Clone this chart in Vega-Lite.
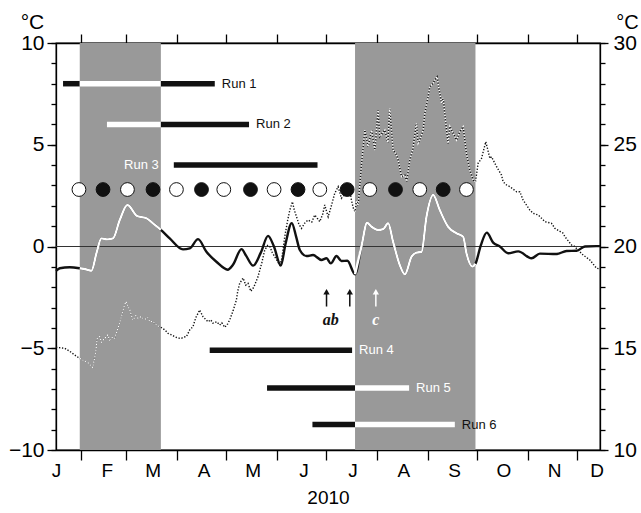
{
  "$schema": "https://vega.github.io/schema/vega-lite/v6.json",
  "width": 544,
  "height": 407,
  "autosize": "none",
  "padding": {"left": 56, "top": 43, "right": 41, "bottom": 63},
  "background": "white",
  "config": {
    "view": {"stroke": "black", "strokeWidth": 1.3},
    "font": "Liberation Sans",
    "axis": {"grid": false, "domainColor": "black", "tickColor": "black", "labelColor": "black", "titleColor": "black", "labelFont": "Liberation Sans", "titleFont": "Liberation Sans", "titleFontWeight": "normal", "domainWidth": 1.3, "tickWidth": 1.3, "labelFlush": false}
  },
  "datasets": {
    "periods": [{"start": 14.5, "end": 64}, {"start": 182.5, "end": 256}],
    "anom": [
      {"day": 0, "value": -1.2}, {"day": 2.3, "value": -1.07}, {"day": 8.4, "value": -1.02}, {"day": 14.5, "value": -1.07}, {"day": 18, "value": -1.12}, {"day": 21.6, "value": -1.19}, {"day": 24.7, "value": -0.33}, {"day": 27.7, "value": 0.4}, {"day": 31.1, "value": 0.35}, {"day": 34.8, "value": 0.4}, {"day": 38.9, "value": 1.3}, {"day": 43.6, "value": 2.04}, {"day": 49.5, "value": 1.5}, {"day": 55.2, "value": 1.39}, {"day": 59, "value": 1.15}, {"day": 64, "value": 0.82}, {"day": 69.4, "value": 0.4}, {"day": 77.5, "value": -0.14}, {"day": 81.6, "value": -0.09}, {"day": 86.7, "value": 0.36}, {"day": 91.8, "value": -0.26}, {"day": 97.9, "value": -0.75}, {"day": 104.8, "value": -1.14}, {"day": 108, "value": -0.9}, {"day": 113.2, "value": -0.13}, {"day": 116, "value": -0.45}, {"day": 120.3, "value": -0.94}, {"day": 125, "value": -0.3}, {"day": 129.4, "value": 0.52}, {"day": 133, "value": 0}, {"day": 137.2, "value": -0.94}, {"day": 140, "value": 0.1}, {"day": 143.9, "value": 1.15}, {"day": 146.5, "value": 0.5}, {"day": 148.8, "value": -0.17}, {"day": 152.9, "value": -0.47}, {"day": 156.9, "value": -0.42}, {"day": 162, "value": -0.66}, {"day": 165.1, "value": -0.58}, {"day": 167.7, "value": -0.83}, {"day": 171.2, "value": -0.47}, {"day": 174.2, "value": -0.71}, {"day": 177.8, "value": -0.7}, {"day": 182.5, "value": -1.36}, {"day": 186.4, "value": 0}, {"day": 189.9, "value": 1.17}, {"day": 192.6, "value": 0.97}, {"day": 196.6, "value": 0.81}, {"day": 199.6, "value": 0.85}, {"day": 202.7, "value": 1.14}, {"day": 205.7, "value": 0.24}, {"day": 209.8, "value": -0.91}, {"day": 212.9, "value": -1.37}, {"day": 217, "value": -0.5}, {"day": 220, "value": -0.3}, {"day": 223.1, "value": -0.26}, {"day": 226.1, "value": 1.46}, {"day": 230.2, "value": 2.53}, {"day": 234.2, "value": 1.79}, {"day": 239.3, "value": 0.97}, {"day": 244.4, "value": 0.65}, {"day": 248.5, "value": 0.48}, {"day": 250.5, "value": -0.33}, {"day": 254.2, "value": -0.99}, {"day": 256, "value": -0.85}, {"day": 259.3, "value": 0.07}, {"day": 262.9, "value": 0.68}, {"day": 266.8, "value": 0.19}, {"day": 270.9, "value": 0}, {"day": 275.9, "value": -0.33}, {"day": 282.1, "value": -0.24}, {"day": 290.2, "value": -0.58}, {"day": 295.3, "value": -0.35}, {"day": 305.5, "value": -0.37}, {"day": 311.6, "value": -0.22}, {"day": 317.7, "value": -0.21}, {"day": 322.8, "value": 0}, {"day": 329.9, "value": 0.02}, {"day": 332, "value": 0.02}
    ],
    "temp": [
      {"day": 0, "temp": 15.05}, {"day": 5.3, "temp": 15.0}, {"day": 8.4, "temp": 14.85}, {"day": 11.4, "temp": 14.67}, {"day": 14.5, "temp": 14.5}, {"day": 19.4, "temp": 14.3}, {"day": 22.4, "temp": 14.05}, {"day": 24.2, "temp": 14.8}, {"day": 25.2, "temp": 15.5}, {"day": 26.7, "temp": 15.57}, {"day": 27.9, "temp": 15.3}, {"day": 29.7, "temp": 15.49}, {"day": 31.6, "temp": 15.65}, {"day": 32.8, "temp": 15.41}, {"day": 34.6, "temp": 15.55}, {"day": 35.8, "temp": 15.5}, {"day": 37.9, "temp": 15.98}, {"day": 39.9, "temp": 16.55}, {"day": 41.3, "temp": 17.0}, {"day": 42.6, "temp": 17.29}, {"day": 43.8, "temp": 17.1}, {"day": 45, "temp": 16.88}, {"day": 47, "temp": 16.39}, {"day": 48.7, "temp": 16.6}, {"day": 50.1, "temp": 16.47}, {"day": 51.7, "temp": 16.55}, {"day": 54.2, "temp": 16.42}, {"day": 56, "temp": 16.5}, {"day": 57.2, "temp": 16.3}, {"day": 59, "temp": 16.32}, {"day": 61.3, "temp": 16.14}, {"day": 64, "temp": 16.03}, {"day": 66.4, "temp": 15.9}, {"day": 68.4, "temp": 15.73}, {"day": 70.6, "temp": 15.65}, {"day": 72.5, "temp": 15.57}, {"day": 74.3, "temp": 15.5}, {"day": 76.6, "temp": 15.49}, {"day": 78, "temp": 15.55}, {"day": 79.6, "temp": 15.57}, {"day": 81.6, "temp": 15.9}, {"day": 83.6, "temp": 16.06}, {"day": 85.3, "temp": 16.5}, {"day": 87.7, "temp": 16.88}, {"day": 89.7, "temp": 16.55}, {"day": 92.8, "temp": 16.3}, {"day": 94.4, "temp": 16.4}, {"day": 95.8, "temp": 16.23}, {"day": 98.1, "temp": 16.3}, {"day": 99.9, "temp": 16.14}, {"day": 101.2, "temp": 16.25}, {"day": 103, "temp": 16.03}, {"day": 104.8, "temp": 16.2}, {"day": 106, "temp": 16.39}, {"day": 108.1, "temp": 16.85}, {"day": 110.1, "temp": 17.37}, {"day": 110.9, "temp": 17.8}, {"day": 112.1, "temp": 18.19}, {"day": 114.2, "temp": 18.45}, {"day": 115.8, "temp": 18.1}, {"day": 117.2, "temp": 18.19}, {"day": 118.9, "temp": 17.8}, {"day": 120.7, "temp": 18.0}, {"day": 123.3, "temp": 18.52}, {"day": 125.6, "temp": 19.2}, {"day": 127.4, "temp": 19.83}, {"day": 129.2, "temp": 20.05}, {"day": 130.5, "temp": 20.0}, {"day": 132, "temp": 19.7}, {"day": 133.5, "temp": 19.5}, {"day": 135.3, "temp": 19.25}, {"day": 136.6, "temp": 19.09}, {"day": 137.8, "temp": 19.4}, {"day": 139.6, "temp": 20.48}, {"day": 141.4, "temp": 21.3}, {"day": 142.7, "temp": 21.79}, {"day": 144.3, "temp": 22.2}, {"day": 145.4, "temp": 21.8}, {"day": 146.8, "temp": 21.46}, {"day": 148.2, "temp": 21.1}, {"day": 149.8, "temp": 20.89}, {"day": 151.8, "temp": 21.15}, {"day": 153.8, "temp": 21.3}, {"day": 156.1, "temp": 21.2}, {"day": 157.9, "temp": 21.55}, {"day": 159.8, "temp": 21.35}, {"day": 161, "temp": 21.22}, {"day": 162.8, "temp": 21.6}, {"day": 164, "temp": 22.04}, {"day": 166.1, "temp": 21.46}, {"day": 167.7, "temp": 21.9}, {"day": 170.1, "temp": 22.61}, {"day": 172.2, "temp": 22.94}, {"day": 174.2, "temp": 22.37}, {"day": 175.6, "temp": 22.5}, {"day": 177.3, "temp": 22.69}, {"day": 179.3, "temp": 22.78}, {"day": 180.3, "temp": 22.28}, {"day": 181.4, "temp": 21.9}, {"day": 182.5, "temp": 21.71}, {"day": 183.5, "temp": 22.28}, {"day": 184.4, "temp": 22.0}, {"day": 186.4, "temp": 24.0}, {"day": 188.5, "temp": 25.72}, {"day": 190.5, "temp": 24.9}, {"day": 192.6, "temp": 25.72}, {"day": 194.6, "temp": 24.74}, {"day": 196.6, "temp": 26.7}, {"day": 197.6, "temp": 25.4}, {"day": 199.5, "temp": 25.6}, {"day": 200.7, "temp": 25.72}, {"day": 202.5, "temp": 25.1}, {"day": 203.7, "temp": 26.79}, {"day": 205.7, "temp": 24.74}, {"day": 207.8, "temp": 24.5}, {"day": 208.8, "temp": 24.25}, {"day": 210.9, "temp": 23.43}, {"day": 212.9, "temp": 23.5}, {"day": 214.1, "temp": 23.2}, {"day": 215.9, "temp": 24.25}, {"day": 217.8, "temp": 24.8}, {"day": 220, "temp": 26.05}, {"day": 221, "temp": 25.07}, {"day": 222, "temp": 25.23}, {"day": 224.1, "temp": 25.72}, {"day": 225.1, "temp": 26.54}, {"day": 227.1, "temp": 27.36}, {"day": 228.1, "temp": 27.85}, {"day": 230.2, "temp": 28.02}, {"day": 231.2, "temp": 28.18}, {"day": 232.6, "temp": 28.34}, {"day": 233.6, "temp": 27.8}, {"day": 235.3, "temp": 27.04}, {"day": 236.3, "temp": 27.3}, {"day": 237.3, "temp": 26.46}, {"day": 239.3, "temp": 25.07}, {"day": 240.4, "temp": 25.9}, {"day": 242.4, "temp": 25.56}, {"day": 244.4, "temp": 25.23}, {"day": 246.5, "temp": 25.64}, {"day": 248.5, "temp": 25.89}, {"day": 250.5, "temp": 24.58}, {"day": 252.5, "temp": 23.76}, {"day": 254.6, "temp": 23.27}, {"day": 256, "temp": 23.18}, {"day": 257.6, "temp": 24.09}, {"day": 259.7, "temp": 24.33}, {"day": 262.3, "temp": 25.15}, {"day": 264.8, "temp": 24.33}, {"day": 265.8, "temp": 24.41}, {"day": 268.9, "temp": 23.92}, {"day": 271.9, "temp": 23.51}, {"day": 272.9, "temp": 23.18}, {"day": 275, "temp": 23.02}, {"day": 277, "temp": 22.94}, {"day": 281.1, "temp": 22.69}, {"day": 283.1, "temp": 22.69}, {"day": 285.1, "temp": 22.28}, {"day": 289.2, "temp": 21.79}, {"day": 291.2, "temp": 21.63}, {"day": 294.3, "temp": 21.55}, {"day": 298.4, "temp": 21.22}, {"day": 302.4, "temp": 21.14}, {"day": 304.5, "temp": 20.89}, {"day": 309.5, "temp": 20.65}, {"day": 310.6, "temp": 20.48}, {"day": 314.7, "temp": 20.07}, {"day": 315.6, "temp": 20.07}, {"day": 319.7, "temp": 19.74}, {"day": 321.7, "temp": 19.58}, {"day": 325.8, "temp": 19.34}, {"day": 329.9, "temp": 18.93}, {"day": 332, "temp": 18.9}
    ],
    "segments": [
      {"run": "Run 1", "start": 4.3, "end": 14.5, "level": 8},
      {"run": "Run 1", "start": 14.5, "end": 64, "level": 8},
      {"run": "Run 1", "start": 64, "end": 96.9, "level": 8},
      {"run": "Run 2", "start": 31.1, "end": 64, "level": 6},
      {"run": "Run 2", "start": 64, "end": 117.8, "level": 6},
      {"run": "Run 3", "start": 71.9, "end": 159.6, "level": 4},
      {"run": "Run 4", "start": 93.8, "end": 180.7, "level": -5.1},
      {"run": "Run 5", "start": 128.8, "end": 182.5, "level": -6.95},
      {"run": "Run 5", "start": 182.5, "end": 215.5, "level": -6.95},
      {"run": "Run 6", "start": 156.5, "end": 182.5, "level": -8.75},
      {"run": "Run 6", "start": 182.5, "end": 243.4, "level": -8.75}
    ],
    "runs": [
      {"run": "Run 1", "start": 4.3, "end": 96.9, "level": 8},
      {"run": "Run 2", "start": 31.1, "end": 117.8, "level": 6},
      {"run": "Run 3", "start": 71.9, "end": 159.6, "level": 4},
      {"run": "Run 4", "start": 93.8, "end": 180.7, "level": -5.1},
      {"run": "Run 5", "start": 128.8, "end": 215.5, "level": -6.95},
      {"run": "Run 6", "start": 156.5, "end": 243.4, "level": -8.75}
    ],
    "samples": [
      {"day": 14.0, "kind": "open"}, {"day": 28.7, "kind": "filled"}, {"day": 43.6, "kind": "open"}, {"day": 59.2, "kind": "filled"}, {"day": 73.5, "kind": "open"}, {"day": 88.8, "kind": "filled"}, {"day": 102.4, "kind": "open"}, {"day": 118.7, "kind": "filled"}, {"day": 133.1, "kind": "open"}, {"day": 147.7, "kind": "filled"}, {"day": 161.0, "kind": "open"}, {"day": 177.7, "kind": "filled"}, {"day": 191.5, "kind": "open"}, {"day": 207.2, "kind": "filled"}, {"day": 222.0, "kind": "open"}, {"day": 236.3, "kind": "filled"}, {"day": 250.5, "kind": "open"}
    ],
    "events": [{"day": 165.1, "event": "a"}, {"day": 179.3, "event": "b"}, {"day": 195.2, "event": "c"}],
    "eventLabels": [{"day": 167.7, "text": "ab"}, {"day": 195.2, "text": "c"}]
  },
  "resolve": {"scale": {"y": "independent"}, "axis": {"x": "independent", "y": "independent"}},
  "layer": [
    {
      "data": {"name": "periods"},
      "mark": {"type": "rect", "color": "#999999"},
      "encoding": {
        "x": {"field": "start", "type": "quantitative", "scale": {"domain": [0, 332], "nice": false, "zero": false},
              "axis": {"orient": "bottom", "values": [15, 43, 74, 104, 135, 165, 196, 227, 257, 288, 318], "labels": false, "tickSize": 10, "title": null, "domain": true}},
        "x2": {"field": "end"},
        "y": {"datum": -10, "type": "quantitative", "scale": {"domain": [-10, 10], "nice": false, "zero": false}, "axis": null},
        "y2": {"datum": 10}
      }
    },
    {
      "data": {"values": [{}]},
      "mark": {"type": "rule", "color": "#333333", "strokeWidth": 1},
      "encoding": {"y": {"datum": 0, "type": "quantitative", "scale": {"domain": [-10, 10], "nice": false, "zero": false}, "axis": null}}
    },
    {
      "data": {"name": "temp"},
      "mark": {"type": "line", "color": "#111111", "strokeWidth": 1.4, "strokeDash": [1.3, 1.7]},
      "encoding": {
        "x": {"field": "day", "type": "quantitative", "axis": null},
        "y": {"field": "temp", "type": "quantitative", "scale": {"domain": [10, 30], "nice": false, "zero": false},
              "axis": {"orient": "right", "values": [10, 15, 20, 25, 30], "tickSize": 8, "labelFontSize": 21, "labelPadding": 5, "domain": true, "title": "°C", "titleAngle": 0, "titleFontSize": 20, "titleAlign": "center", "titleBaseline": "middle", "titleX": 27, "titleY": -21}}
      }
    },
    {
      "data": {"name": "temp"},
      "transform": [{"filter": {"field": "day", "range": [14.5, 64]}}],
      "mark": {"type": "line", "color": "white", "strokeWidth": 1.4, "strokeDash": [1.3, 1.7]},
      "encoding": {
        "x": {"field": "day", "type": "quantitative", "axis": null},
        "y": {"field": "temp", "type": "quantitative", "scale": {"domain": [10, 30], "nice": false, "zero": false},
              "axis": {"orient": "right", "values": [10, 11, 12, 13, 14, 15, 16, 17, 18, 19, 20, 21, 22, 23, 24, 25, 26, 27, 28, 29, 30], "tickSize": 5, "labels": false, "domain": false, "title": null}}
      }
    },
    {
      "data": {"name": "temp"},
      "transform": [{"filter": {"field": "day", "range": [182.5, 256]}}],
      "mark": {"type": "line", "color": "white", "strokeWidth": 1.4, "strokeDash": [1.3, 1.7]},
      "encoding": {
        "x": {"field": "day", "type": "quantitative", "axis": null},
        "y": {"field": "temp", "type": "quantitative", "scale": {"domain": [10, 30], "nice": false, "zero": false}, "axis": null}
      }
    },
    {
      "data": {"name": "anom"},
      "mark": {"type": "line", "color": "#111111", "strokeWidth": 2.4, "interpolate": "monotone"},
      "encoding": {
        "x": {"field": "day", "type": "quantitative",
              "axis": {"orient": "bottom", "values": [0, 31, 59, 90, 120, 151, 181, 212, 243, 273, 304, 330], "ticks": false, "tickSize": 0, "domain": false, "labelFontSize": 19, "labelBaseline": "alphabetic", "labelPadding": 26,
                       "labelExpr": "['J','F','M','A','M','J','J','A','S','O','N','D'][indexof([0,31,59,90,120,151,181,212,243,273,304,330], datum.value)]",
                       "title": "2010", "titleFontSize": 19, "titleBaseline": "alphabetic", "titleY": 53}},
        "y": {"field": "value", "type": "quantitative", "scale": {"domain": [-10, 10], "nice": false, "zero": false},
              "axis": {"orient": "left", "values": [-10, -5, 0, 5, 10], "tickSize": 9, "labelFontSize": 21, "labelPadding": 3, "domain": true, "title": "°C", "titleAngle": 0, "titleFontSize": 21, "titleAlign": "center", "titleBaseline": "middle", "titleX": -24, "titleY": -21}}
      }
    },
    {
      "data": {"name": "anom"},
      "transform": [{"filter": {"field": "day", "range": [14.5, 64]}}],
      "mark": {"type": "line", "color": "white", "strokeWidth": 2.4, "interpolate": "monotone"},
      "encoding": {
        "x": {"field": "day", "type": "quantitative", "axis": null},
        "y": {"field": "value", "type": "quantitative", "scale": {"domain": [-10, 10], "nice": false, "zero": false},
              "axis": {"orient": "left", "values": [-10, -9, -8, -7, -6, -5, -4, -3, -2, -1, 0, 1, 2, 3, 4, 5, 6, 7, 8, 9, 10], "tickSize": 5, "labels": false, "domain": false, "title": null}}
      }
    },
    {
      "data": {"name": "anom"},
      "transform": [{"filter": {"field": "day", "range": [182.5, 256]}}],
      "mark": {"type": "line", "color": "white", "strokeWidth": 2.4, "interpolate": "monotone"},
      "encoding": {
        "x": {"field": "day", "type": "quantitative",
              "axis": {"orient": "top", "values": [15, 43, 74, 104, 135, 165, 196, 227, 257, 288, 318], "labels": false, "tickSize": 9, "title": null, "domain": true}},
        "y": {"field": "value", "type": "quantitative", "scale": {"domain": [-10, 10], "nice": false, "zero": false}, "axis": null}
      }
    },
    {
      "data": {"name": "segments"},
      "mark": {"type": "rule", "strokeWidth": 5.5, "strokeCap": "butt"},
      "encoding": {
        "x": {"field": "start", "type": "quantitative", "axis": null},
        "x2": {"field": "end"},
        "y": {"field": "level", "type": "quantitative", "scale": {"domain": [-10, 10], "nice": false, "zero": false}, "axis": null},
        "color": {"condition": {"test": "(datum.start >= 14.5 && datum.end <= 64) || (datum.start >= 182.5 && datum.end <= 256)", "value": "white"}, "value": "#111111"}
      }
    },
    {
      "data": {"name": "runs"},
      "transform": [{"filter": "datum.run != 'Run 3'"}],
      "mark": {"type": "text", "align": "left", "baseline": "middle", "dx": 7, "fontSize": 13, "font": "Liberation Sans"},
      "encoding": {
        "x": {"field": "end", "type": "quantitative", "axis": null},
        "y": {"field": "level", "type": "quantitative", "scale": {"domain": [-10, 10], "nice": false, "zero": false}, "axis": null},
        "text": {"field": "run"},
        "color": {"condition": {"test": "datum.run == 'Run 4' || datum.run == 'Run 5'", "value": "white"}, "value": "#111111"}
      }
    },
    {
      "data": {"name": "runs"},
      "transform": [{"filter": "datum.run == 'Run 3'"}],
      "mark": {"type": "text", "align": "right", "baseline": "middle", "dx": -15, "fontSize": 13, "font": "Liberation Sans", "color": "white"},
      "encoding": {
        "x": {"field": "start", "type": "quantitative", "axis": null},
        "y": {"field": "level", "type": "quantitative", "scale": {"domain": [-10, 10], "nice": false, "zero": false}, "axis": null},
        "text": {"field": "run"}
      }
    },
    {
      "data": {"name": "samples"},
      "mark": {"type": "point", "filled": true, "size": 190, "stroke": "#111111", "strokeWidth": 1, "opacity": 1, "shape": "circle"},
      "encoding": {
        "x": {"field": "day", "type": "quantitative", "axis": null},
        "y": {"datum": 2.8, "type": "quantitative", "scale": {"domain": [-10, 10], "nice": false, "zero": false}, "axis": null},
        "fill": {"condition": {"test": "datum.kind == 'open'", "value": "white"}, "value": "#111111"}
      }
    },
    {
      "data": {"name": "events"},
      "mark": {"type": "rule", "strokeWidth": 1.5},
      "encoding": {
        "x": {"field": "day", "type": "quantitative", "axis": null},
        "y": {"datum": -2.95, "type": "quantitative", "scale": {"domain": [-10, 10], "nice": false, "zero": false}, "axis": null},
        "y2": {"datum": -2.3},
        "color": {"condition": {"test": "datum.event == 'c'", "value": "white"}, "value": "#111111"}
      }
    },
    {
      "data": {"name": "events"},
      "mark": {"type": "point", "shape": "triangle-up", "filled": true, "size": 40, "opacity": 1},
      "encoding": {
        "x": {"field": "day", "type": "quantitative", "axis": null},
        "y": {"datum": -2.22, "type": "quantitative", "scale": {"domain": [-10, 10], "nice": false, "zero": false}, "axis": null},
        "color": {"condition": {"test": "datum.event == 'c'", "value": "white"}, "value": "#111111"}
      }
    },
    {
      "data": {"name": "eventLabels"},
      "mark": {"type": "text", "font": "Liberation Serif", "fontStyle": "italic", "fontWeight": "bold", "fontSize": 16, "baseline": "middle", "align": "center"},
      "encoding": {
        "x": {"field": "day", "type": "quantitative", "axis": null},
        "y": {"datum": -3.6, "type": "quantitative", "scale": {"domain": [-10, 10], "nice": false, "zero": false}, "axis": null},
        "text": {"field": "text"},
        "color": {"condition": {"test": "datum.text == 'c'", "value": "white"}, "value": "#111111"}
      }
    }
  ]
}
